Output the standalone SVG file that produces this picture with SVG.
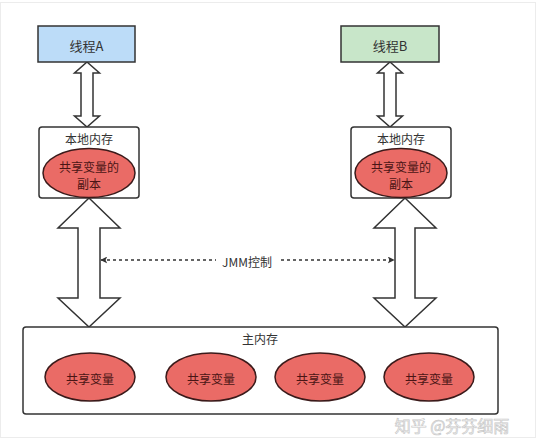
<svg xmlns="http://www.w3.org/2000/svg" width="537" height="442" viewBox="0 0 537 442">
<defs>
<style>
.t{font-family:"Noto Sans CJK SC","Liberation Sans",sans-serif;fill:#333;text-anchor:middle;dominant-baseline:central}
.box{fill:#fff;stroke:#333;stroke-width:1.5}
.el{fill:#ea6b66;stroke:#3a1a1a;stroke-width:1.5}
.et{font-family:"Noto Sans CJK SC","Liberation Sans",sans-serif;fill:#4a1515;text-anchor:middle;dominant-baseline:central;font-size:12px}
.da{fill:#fff;stroke:#333;stroke-width:1.5;stroke-linejoin:miter}
</style>
<marker id="ah" viewBox="0 0 10 10" refX="9" refY="5" markerWidth="7" markerHeight="7" orient="auto-start-reverse" markerUnits="userSpaceOnUse">
<path d="M0,0 L10,5 L0,10 L2.5,5 Z" fill="#333"/>
</marker>
</defs>
<rect x="0" y="0" width="537" height="442" fill="#fff"/>
<rect x="0.5" y="2.5" width="535" height="435" fill="none" stroke="#ececec" stroke-width="1"/>

<g id="connectors">
<path class="da" d="M87,62 L99.5,73 L93,73 L93,116 L99.5,116 L87,127 L74.5,116 L81,116 L81,73 L74.5,73 Z"/>
<path class="da" d="M390,62 L402.5,73 L396,73 L396,116 L402.5,116 L390,127 L377.5,116 L384,116 L384,73 L377.5,73 Z"/>
<path class="da" d="M89,198 L120,228 L100,228 L100,298 L120,298 L89,327 L58,298 L78,298 L78,228 L58,228 Z"/>
<path class="da" d="M405,198 L436,228 L415,228 L415,298 L436,298 L405,327 L374,298 L395,298 L395,228 L374,228 Z"/>
<line x1="101" y1="260" x2="394" y2="260" stroke="#333" stroke-width="1.5" stroke-dasharray="3,3" marker-start="url(#ah)" marker-end="url(#ah)"/>
<rect x="216" y="252" width="62" height="17" fill="#fff"/>
<text class="t" x="247" y="261" font-size="12">JMM控制</text>
</g>

<g id="threadA">
<rect x="38" y="26" width="97" height="36" fill="#bcdcf8" stroke="#333" stroke-width="1.5"/>
<text class="t" x="86.5" y="45" font-size="13">线程A</text>
</g>
<g id="threadB">
<rect x="341" y="26" width="98" height="36" fill="#c8e6c9" stroke="#333" stroke-width="1.5"/>
<text class="t" x="390" y="45" font-size="13">线程B</text>
</g>

<g id="localA">
<rect class="box" x="39" y="127" width="100" height="71" rx="3"/>
<text class="t" x="89" y="138" font-size="12">本地内存</text>
<ellipse class="el" cx="89" cy="173" rx="46" ry="24.5"/>
<text class="et" x="89" y="166">共享变量的</text>
<text class="et" x="89" y="183">副本</text>
</g>
<g id="localB">
<rect class="box" x="351" y="127" width="100" height="71" rx="3"/>
<text class="t" x="401" y="138" font-size="12">本地内存</text>
<ellipse class="el" cx="401" cy="173" rx="46" ry="24.5"/>
<text class="et" x="401" y="166">共享变量的</text>
<text class="et" x="401" y="183">副本</text>
</g>

<g id="mainMemory">
<rect class="box" x="23" y="327" width="475" height="87" rx="3"/>
<text class="t" x="260" y="338" font-size="12">主内存</text>
<ellipse class="el" cx="90" cy="377" rx="45" ry="24"/>
<text class="et" x="90" y="378">共享变量</text>
<ellipse class="el" cx="211" cy="377" rx="45" ry="24"/>
<text class="et" x="211" y="378">共享变量</text>
<ellipse class="el" cx="320" cy="377" rx="45" ry="24"/>
<text class="et" x="320" y="378">共享变量</text>
<ellipse class="el" cx="429" cy="377" rx="45" ry="24"/>
<text class="et" x="429" y="378">共享变量</text>
</g>

<text x="452" y="425" font-family="Noto Sans CJK SC,sans-serif" font-size="16" fill="#fff" stroke="#c8c8c8" stroke-width="0.7" text-anchor="middle" dominant-baseline="central">知乎 @芬芬细雨</text>
</svg>
